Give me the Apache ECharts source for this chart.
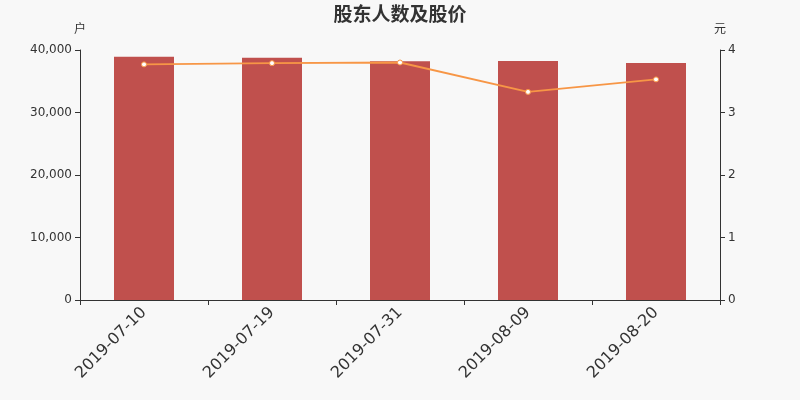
<!DOCTYPE html>
<html><head><meta charset="utf-8">
<script src="https://cdn.jsdelivr.net/npm/echarts@6/dist/echarts.min.js"></script>
<style>html,body{margin:0;padding:0;background:#f8f8f8;}#c{width:800px;height:400px;}</style>
</head><body><div id="c"></div>
<script>
var categories = ['2019-07-10','2019-07-19','2019-07-31','2019-08-09','2019-08-20'];
var holders = [38930, 38770, 38190, 38240, 37920];
var prices = [3.77, 3.79, 3.80, 3.33, 3.53];
var chart = echarts.init(document.getElementById('c'));
chart.setOption({
  backgroundColor: '#f8f8f8',
  textStyle: {fontFamily: 'DejaVu Sans'},
  title: {text: '股东人数及股价', left: 'center', top: -1, textStyle: {fontSize: 19, fontWeight: 'bold', color: '#333', fontFamily: 'Noto Sans CJK SC'}},
  grid: {left: 80, right: 80, top: 50, bottom: 100},
  xAxis: {type: 'category', data: categories,
    axisLine: {lineStyle: {color: '#333'}}, axisTick: {show: true, alignWithLabel: false, lineStyle: {color: '#333'}},
    axisLabel: {rotate: 45, fontSize: 16, color: '#333', interval: 0, margin: 10, fontFamily: 'DejaVu Sans'}},
  yAxis: [
    {type: 'value', name: '户', min: 0, max: 40000, interval: 10000, nameGap: 16,
     nameTextStyle: {color: '#333', fontSize: 12, fontFamily: 'Noto Sans CJK SC'},
     axisLine: {show: true, lineStyle: {color: '#333'}}, axisTick: {show: true}, splitLine: {show: false},
     axisLabel: {color: '#333', fontSize: 12, fontFamily: 'DejaVu Sans'}},
    {type: 'value', name: '元', min: 0, max: 4, interval: 1, nameGap: 16,
     nameTextStyle: {color: '#333', fontSize: 12, fontFamily: 'Noto Sans CJK SC'},
     axisLine: {show: true, lineStyle: {color: '#333'}}, axisTick: {show: true}, splitLine: {show: false},
     axisLabel: {color: '#333', fontSize: 12, fontFamily: 'DejaVu Sans'}}
  ],
  series: [
    {type: 'bar', data: holders, barWidth: 60, itemStyle: {color: '#c0504d'}},
    {type: 'line', yAxisIndex: 1, data: prices, symbol: 'circle', symbolSize: 5,
     lineStyle: {color: '#f79646', width: 2}, itemStyle: {color: '#fff', borderColor: '#f79646', borderWidth: 1}}
  ]
});
</script></body></html>
